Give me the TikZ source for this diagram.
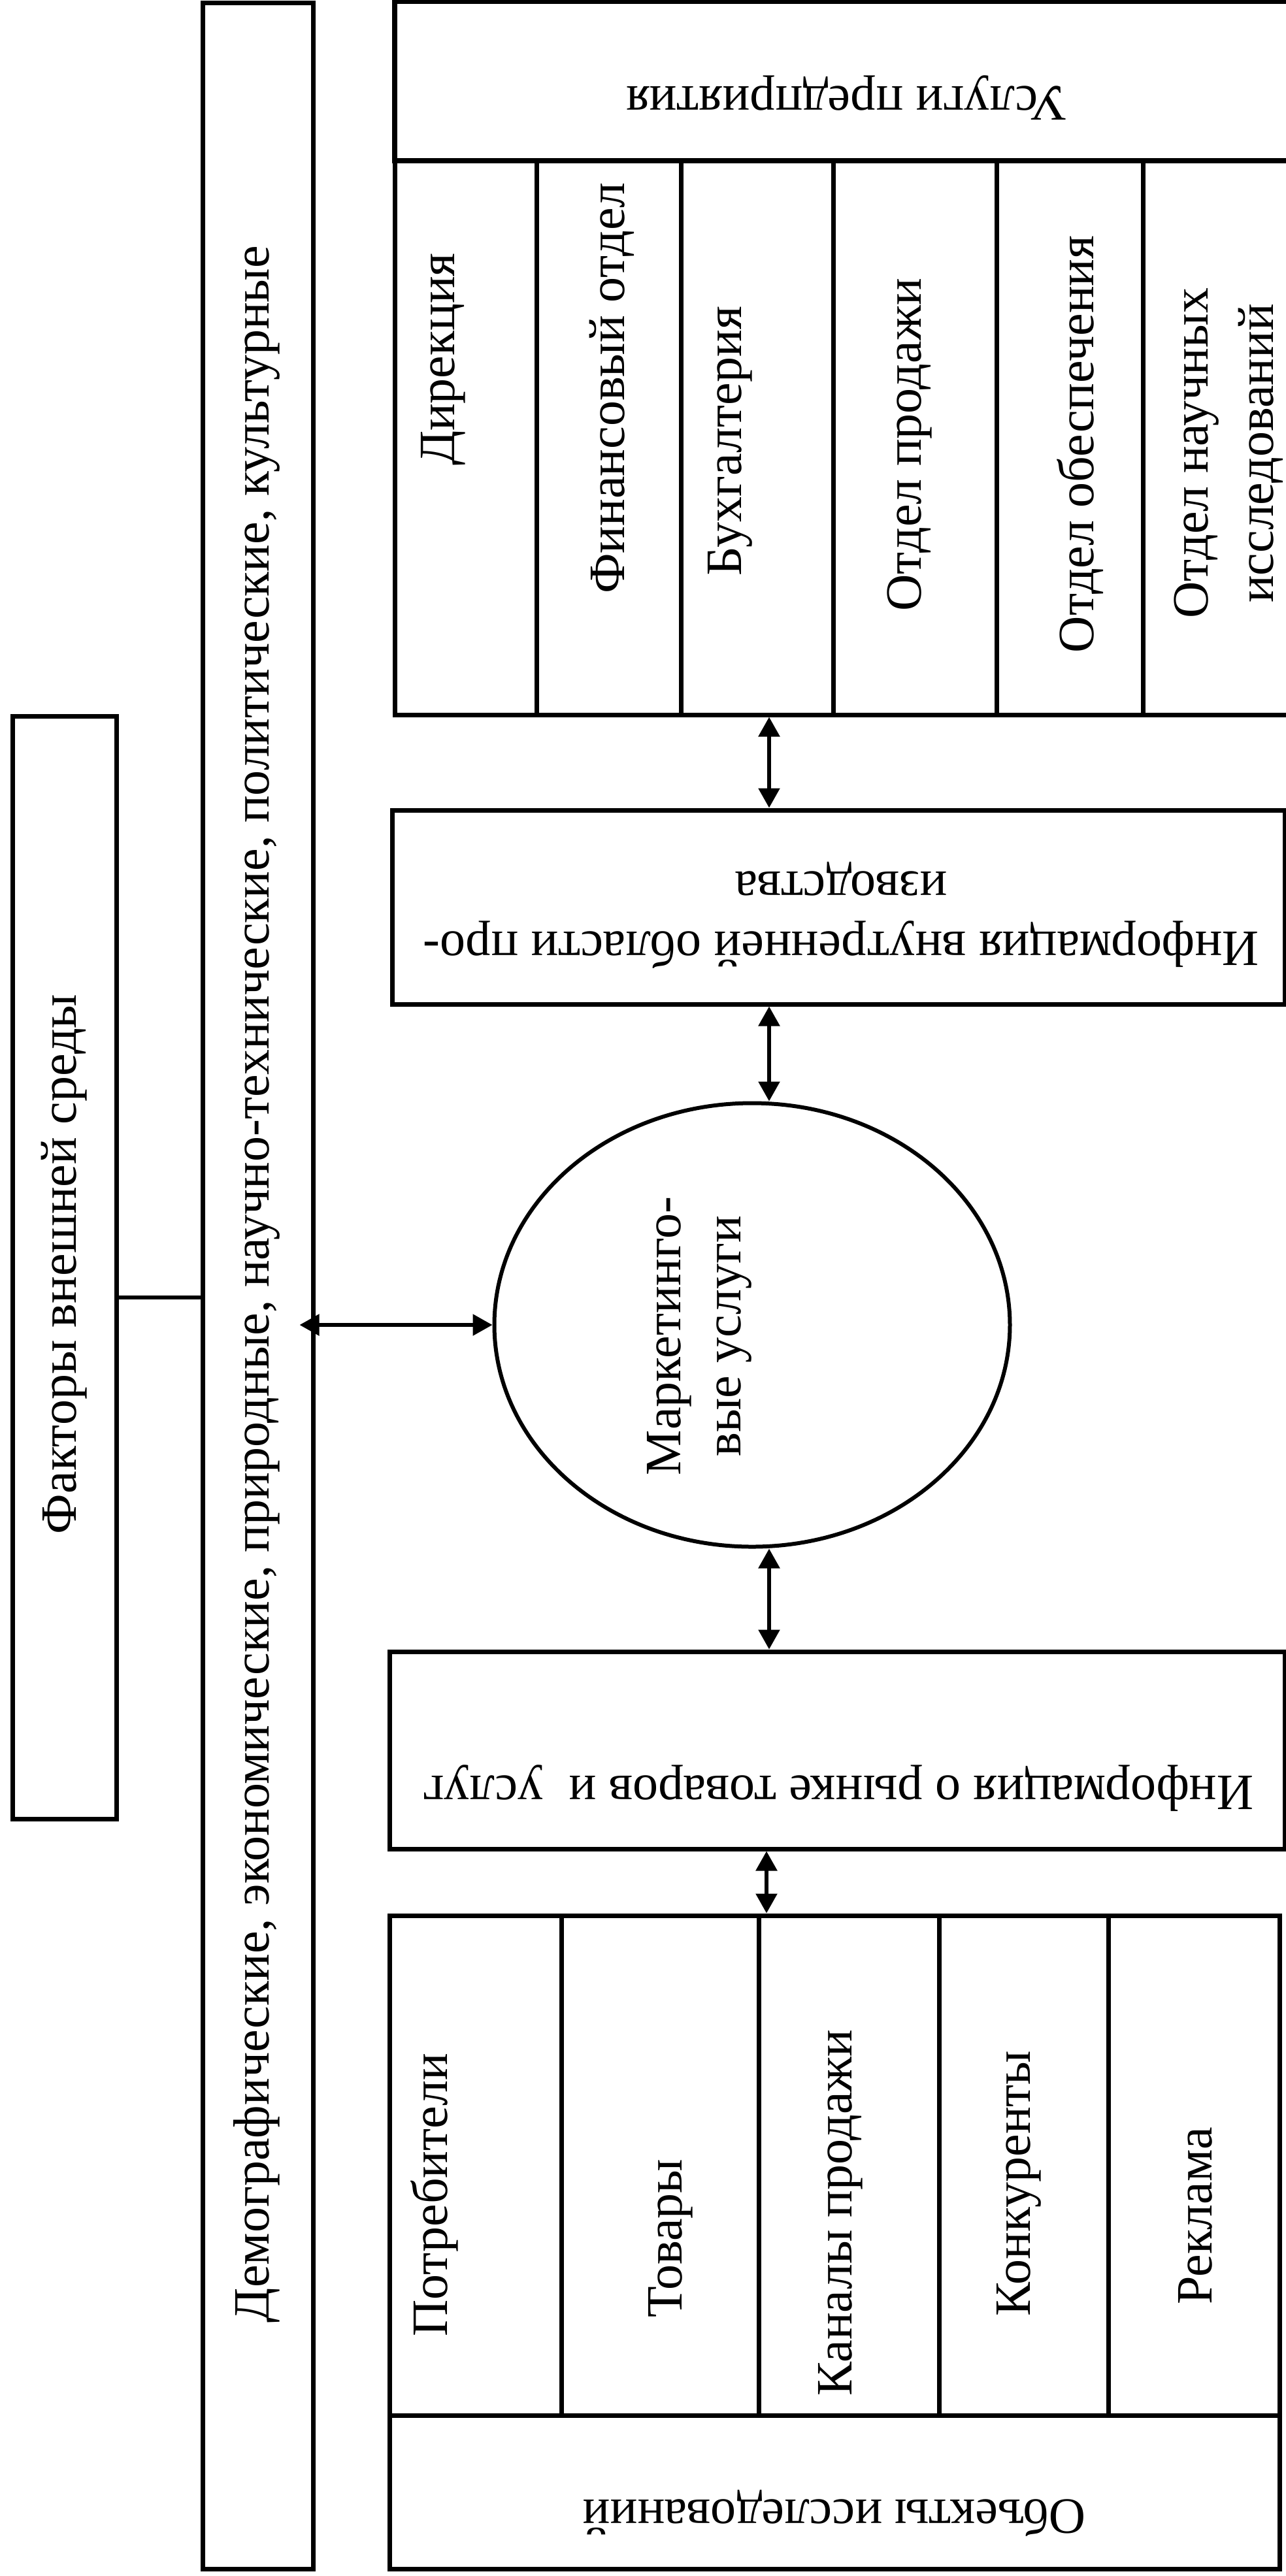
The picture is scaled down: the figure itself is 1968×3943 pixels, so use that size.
\documentclass[tikz,border=0pt]{standalone}
\usepackage{fontspec}
\setmainfont{Liberation Serif}
\usetikzlibrary{arrows.meta,shapes.geometric,fit,calc}
\newcommand\lblfont{\fontsize{19.5}{23}\selectfont}
\begin{document}
\begin{tikzpicture}[x=0.25pt,y=-0.25pt,
  box/.style={draw, line width=1.75pt, inner sep=0pt},
  hbox/.style={box, line width=2.2pt},
  lbl/.style={font=\lblfont, inner sep=0pt, align=center},
  up/.style={lbl, rotate=90},
  flip/.style={lbl, rotate=180},
  tip/.tip={Triangle[width=8pt,length=7.5pt]},
  link/.style={line width=1.4pt, tip-tip},
]
\useasboundingbox (0,0) rectangle (1968,3943);
\fill[white] (0,0) rectangle (1968,3943);

% external environment
\node[box, fit={(19,1096) (178,2784)}] (fac) {};
\node[up] (factxt) at (98,1935) {Факторы внешней среды};
\node[box, fit={(310,4) (479,3932)}] (env) {};
\node[up] (envtxt) at (393,1966) {Демографические, экономические, природные, научно-технические, политические, культурные};
\coordinate (tie) at (0,1986);
\draw[line width=1.4pt] (fac.east |- tie) -- (env.west |- tie);

% enterprise services
\node[hbox, fit={(604,2) (1972,246)}] (svc) {};
\node[flip] (svctxt) at (1296,150) {Услуги предприятия};
\node[box, fit={(604,246) (821,1094)}] (d1) {};
\node[box, fit={(821,246) (1042,1094)}] (d2) {};
\node[box, fit={(1042,246) (1275,1094)}] (d3) {};
\node[box, fit={(1275,246) (1525,1094)}] (d4) {};
\node[box, fit={(1525,246) (1749,1094)}] (d5) {};
\node[box, fit={(1749,246) (1972,1094)}] (d6) {};
\node[up] (d1txt) at (678,550) {Дирекция};
\node[up] (d2txt) at (936,594) {Финансовый отдел};
\node[up] (d3txt) at (1117,675) {Бухгалтерия};
\node[up] (d4txt) at (1392,681) {Отдел продажи};
\node[up] (d5txt) at (1653,680) {Отдел обеспечения};
\node[up, font=\fontsize{19.5}{25}\selectfont] (d6txt) at (1880,694) {Отдел научных\\исследований};

% information flows
\node[box, fit={(600,1240) (1966,1537)}] (info1) {};
\node[flip] (info1txt) at (1287,1401) {Информация внутренней области про-\\изводства};
\node[draw, ellipse, line width=1.5pt, inner sep=0pt,
      minimum width=197.25pt, minimum height=169.75pt] (mk) at (1151,2028) {};
\node[up] (mktxt) at (1070,2045) {Маркетинго-\\вые услуги};
\node[box, fit={(596,2528) (1966,2830)}] (info2) {};
\node[flip] (info2txt) at (1283,2737) {Информация о рынке товаров и\ \ услуг};

% research objects
\node[box, fit={(596,2932) (859,3697)}] (o1) {};
\node[box, fit={(859,2932) (1161,3697)}] (o2) {};
\node[box, fit={(1161,2932) (1437,3697)}] (o3) {};
\node[box, fit={(1437,2932) (1696,3697)}] (o4) {};
\node[box, fit={(1696,2932) (1958,3697)}] (o5) {};
\node[box, fit={(596,3697) (1958,3932)}] (obj) {};
\node[up] (o1txt) at (665,3360) {Потребители};
\node[up] (o2txt) at (1026,3426) {Товары};
\node[up] (o3txt) at (1286,3387) {Каналы продажи};
\node[up] (o4txt) at (1559,3342) {Конкуренты};
\node[up] (o5txt) at (1829,3392) {Реклама};
\node[flip] (objtxt) at (1277,3847) {Объекты исследований};

% connectors
\coordinate (axis) at (1177,0);
\coordinate (axislow) at (1173,0);
\draw[link] (d3.south -| axis) -- (info1.north -| axis);
\draw[link] (info1.south -| axis) -- (mk.north -| axis);
\draw[link] (mk.south -| axis) -- (info2.north -| axis);
\draw[link] (info2.south -| axislow) -- (o3.north -| axislow);
\coordinate (envport) at ($(env.east |- mk.west)+(-24,0)$);
\draw[link] (envport) -- (mk.west);
\end{tikzpicture}
\end{document}
